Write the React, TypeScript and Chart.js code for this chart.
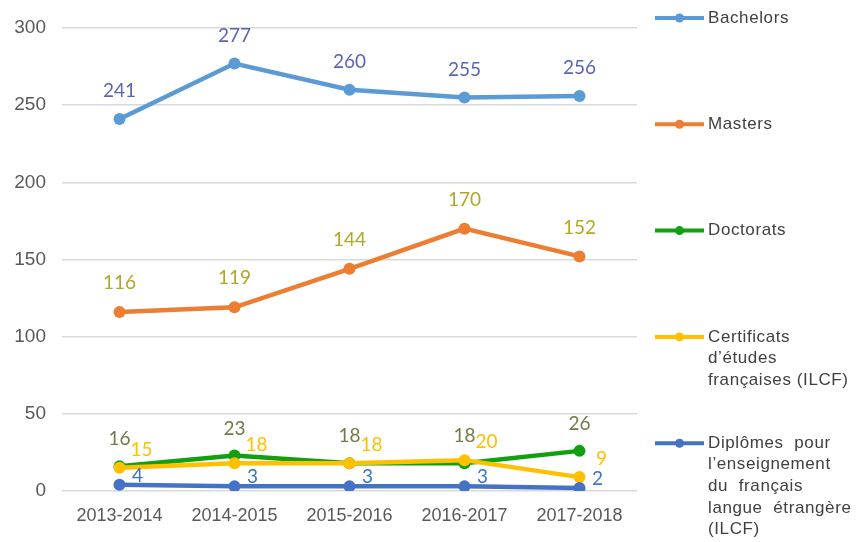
import React, { useEffect, useRef } from "react";
import { Chart, registerables } from "chart.js";

Chart.register(...registerables);

const categories = ["2013-2014", "2014-2015", "2015-2016", "2016-2017", "2017-2018"];
const bachelors = [241, 277, 260, 255, 256];
const masters = [116, 119, 144, 170, 152];
const doctorats = [16, 23, 18, 18, 26];
const certificats = [15, 18, 18, 20, 9];
const diplomes = [4, 3, 3, 3, 2];
const yTicks = [0, 50, 100, 150, 200, 250, 300];

const seriesNames = [
  "Bachelors",
  "Masters",
  "Doctorats",
  "Certificats d’études françaises (ILCF)",
  "Diplômes pour l’enseignement du français langue étrangère (ILCF)",
];
const legendLines = [
  ["Bachelors"],
  ["Masters"],
  ["Doctorats"],
  ["Certificats", "d’études", "françaises (ILCF)"],
  ["Diplômes  pour", "l’enseignement", "du  français", "langue  étrangère", "(ILCF)"],
];
const lineColors = ["#5B9BD5", "#ED7D31", "#10A010", "#FFC000", "#4472C4"];
const labelColors = ["#5A64B4", "#B0A826", "#737A4A", "#FFC000", "#3A74C8"];
const labelOffsets = [
  [0, -28],
  [0, -29],
  [0, -27],
  [22, -18],
  [18, -9],
];

const dataLabelPlugin = {
  id: "dataLabels",
  afterDatasetsDraw(chart: any) {
    const ctx = chart.ctx;
    ctx.save();
    ctx.font = "19px Lato, 'Noto Sans', sans-serif";
    ctx.textAlign = "center";
    ctx.textBaseline = "middle";
    chart.data.datasets.forEach((ds: any, i: number) => {
      const meta = chart.getDatasetMeta(i);
      ctx.fillStyle = labelColors[i];
      meta.data.forEach((pt: any, j: number) => {
        ctx.fillText(String(ds.data[j]), pt.x + labelOffsets[i][0], pt.y + labelOffsets[i][1]);
      });
    });
    ctx.restore();
  },
};

const legendPlugin = {
  id: "sideLegend",
  afterDraw(chart: any) {
    const ctx = chart.ctx;
    ctx.save();
    ctx.font = "17px 'Liberation Sans', Arial, sans-serif";
    try {
      ctx.letterSpacing = "0.6px";
    } catch (e) {}
    ctx.textBaseline = "middle";
    ctx.textAlign = "left";
    const x0 = 655;
    const x1 = 704;
    legendLines.forEach((lines, i) => {
      const y = 18 + i * 106.3;
      ctx.strokeStyle = lineColors[i];
      ctx.lineWidth = 4;
      ctx.beginPath();
      ctx.moveTo(x0, y);
      ctx.lineTo(x1, y);
      ctx.stroke();
      ctx.fillStyle = lineColors[i];
      ctx.beginPath();
      ctx.arc((x0 + x1) / 2, y, 4.5, 0, Math.PI * 2);
      ctx.fill();
      ctx.fillStyle = "#404040";
      lines.forEach((t, k) => {
        ctx.fillText(t, 708, y + k * 21.6);
      });
    });
    ctx.restore();
  },
};

export default function App() {
  const ref = useRef<HTMLCanvasElement>(null);
  useEffect(() => {
    const series = [bachelors, masters, doctorats, certificats, diplomes];
    const chart = new Chart(ref.current!, {
      type: "line",
      data: {
        labels: categories,
        datasets: series.map((d, i) => ({
          label: seriesNames[i],
          data: d,
          borderColor: lineColors[i],
          backgroundColor: lineColors[i],
          borderWidth: 4.5,
          pointRadius: 6,
          pointBorderWidth: 0,
          pointHoverRadius: 6,
          tension: 0,
          fill: false,
          order: series.length - i,
        })),
      },
      plugins: [dataLabelPlugin, legendPlugin],
      options: {
        responsive: false,
        animation: false,
        devicePixelRatio: 1,
        layout: { padding: { left: 0, right: 221, top: 28, bottom: 0 } },
        plugins: {
          legend: { display: false },
          tooltip: { enabled: false },
        },
        scales: {
          x: {
            offset: true,
            grid: { display: false, drawTicks: false },
            border: { display: false },
            ticks: {
              padding: 14,
              color: "#595959",
              font: { family: "'Liberation Sans', Arial, sans-serif", size: 18 },
            },
            afterFit: (s: any) => {
              s.height = 51;
            },
          },
          y: {
            min: 0,
            max: 300,
            afterBuildTicks: (s: any) => {
              s.ticks = yTicks.map((v) => ({ value: v }));
            },
            grid: { color: "#D9D9D9", lineWidth: 1.5, drawTicks: false },
            border: { display: false },
            ticks: {
              padding: 16,
              color: "#595959",
              font: { family: "'Liberation Sans', Arial, sans-serif", size: 19 },
            },
            afterFit: (s: any) => {
              s.width = 62;
            },
          },
        },
      },
    });
    return () => chart.destroy();
  }, []);
  return (
    <div style={{ position: "fixed", left: 0, top: 0, width: 858, height: 542, background: "#fff" }}>
      <canvas ref={ref} width={858} height={542} style={{ display: "block" }} />
    </div>
  );
}
